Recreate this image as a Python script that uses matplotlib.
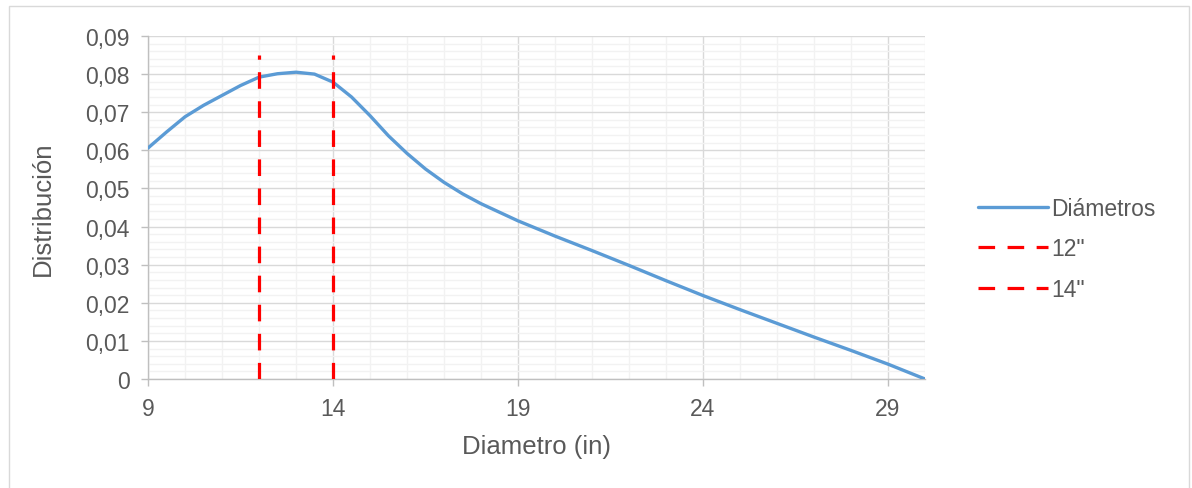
import numpy as np
import matplotlib
matplotlib.use('Agg')
import matplotlib.pyplot as plt
from matplotlib.ticker import MultipleLocator, FuncFormatter
from matplotlib.lines import Line2D
from matplotlib.patches import Rectangle

plt.rcParams['font.family'] = ['Liberation Sans', 'DejaVu Sans']

# diameter distribution (in -> fraction)
diametro = [9, 9.5, 10, 10.5, 11, 11.5, 12, 12.5, 13, 13.5, 14, 14.5, 15, 15.5,
            16, 16.5, 17, 17.5, 18, 19, 20, 21, 22, 23, 24, 25, 26, 27, 28, 29, 30]
distribucion = [0.0606, 0.0648, 0.0688, 0.0718, 0.0744, 0.0770, 0.0792, 0.0801,
                0.0805, 0.0800, 0.0779, 0.0740, 0.0691, 0.0638, 0.0592, 0.0551,
                0.0516, 0.0486, 0.0460, 0.0415, 0.0375, 0.0337, 0.0298, 0.0258,
                0.0219, 0.0182, 0.0146, 0.0110, 0.0075, 0.0039, 0.0]

# reference diameters
ref_diam = [12, 14]
ref_labels = ['12"', '14"']
ref_top = 0.085

x_ticks = [9, 14, 19, 24, 29]
y_ticks = [0, 0.01, 0.02, 0.03, 0.04, 0.05, 0.06, 0.07, 0.08, 0.09]

BLUE = '#5B9BD5'
RED = '#FF0000'
TXT = '#595959'
DASH = (0, (5.2, 3.9))

W, H = 1192, 489
fig = plt.figure(figsize=(W / 100, H / 100), dpi=100)

# chart-area border (bottom edge runs off the canvas)
fig.patches.append(Rectangle((8.5 / W, -5 / H), 1180 / W, 487 / H,
                             transform=fig.transFigure, fill=False,
                             edgecolor='#D9D9D9', linewidth=1.0))

ax = fig.add_axes([148 / W, 1 - 380 / H, 777 / W, 343 / H])

ax.plot(diametro, distribucion, color=BLUE, linewidth=2.4,
        solid_capstyle='round', solid_joinstyle='round', zorder=3)
for xd in ref_diam:
    ax.plot([xd, xd], [0, ref_top], color=RED, linewidth=2.3,
            linestyle=DASH, zorder=4)

ax.set_xlim(9, 30)
ax.set_ylim(0, 0.09)
ax.set_xticks(x_ticks)
ax.set_yticks(y_ticks)
ax.xaxis.set_minor_locator(MultipleLocator(1))
ax.yaxis.set_minor_locator(MultipleLocator(0.002))
ax.yaxis.set_major_formatter(FuncFormatter(
    lambda v, p: '0' if abs(v) < 1e-9 else f'{v:.2f}'.replace('.', ',')))

ax.grid(which='minor', color='#F2F2F2', linewidth=1.0, zorder=0)
ax.grid(which='major', color='#D9D9D9', linewidth=1.0, zorder=1)
ax.set_axisbelow(True)

for s in ['top', 'right']:
    ax.spines[s].set_visible(False)
for s in ['left', 'bottom']:
    ax.spines[s].set_color('#BFBFBF')
    ax.spines[s].set_linewidth(1.0)

ax.tick_params(which='major', length=5, width=1, color='#BFBFBF',
               labelcolor=TXT, labelsize=16.5, pad=8)
ax.tick_params(which='minor', length=0)

ax.set_xlabel('Diametro (in)', fontsize=18.5, color=TXT, labelpad=10)
ax.set_ylabel('Distribución', fontsize=18.5, color=TXT, labelpad=22)

handles = [Line2D([], [], color=BLUE, linewidth=2.4, solid_capstyle='round'),
           Line2D([], [], color=RED, linewidth=2.3, linestyle=DASH),
           Line2D([], [], color=RED, linewidth=2.3, linestyle=DASH)]
labels = ['Diámetros'] + ref_labels
leg = fig.legend(handles, labels, loc='center left',
                 bbox_to_anchor=(978 / W, 1 - 250 / H), frameon=False,
                 fontsize=16.5, handlelength=3.05, handletextpad=0.15,
                 labelspacing=0.75, borderpad=0, borderaxespad=0)
for t in leg.get_texts():
    t.set_color(TXT)

fig.savefig('out.png', dpi=100)
